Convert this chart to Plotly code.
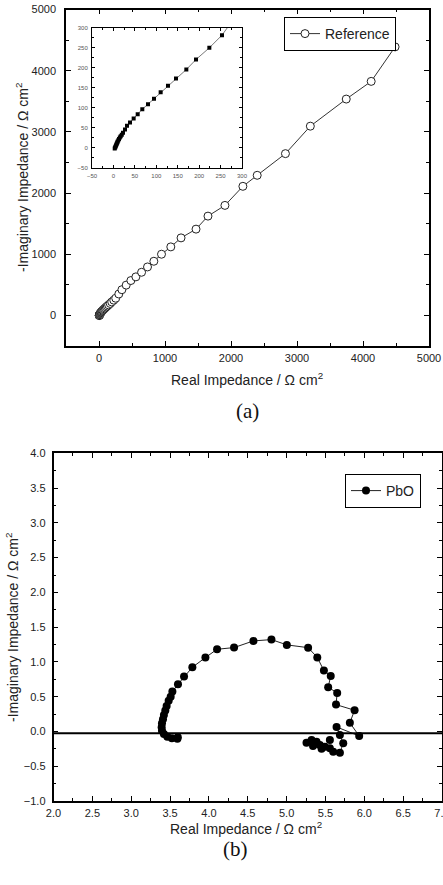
import plotly.graph_objects as go

# ---------------- data ----------------
# (a) Reference electrode: main Nyquist data (same data is shown zoomed in the inset)
ref_real = [3, 4, 5, 6, 7, 8, 9, 10, 11.5, 13, 15, 17, 19.5,
            22.3, 27, 31.7, 38.7, 47.2, 56.6, 67.4, 80.7, 94.7, 110.2, 127.3, 146,
            170.1, 192.7, 223.8, 253.3,
            300, 347, 412, 483, 559, 645, 735, 831, 947, 1088, 1243, 1470, 1651,
            1908, 2180, 2397, 2825, 3202, 3746, 4124, 4486]
ref_imag = [-2.5, 0, 2.5, 5, 7.5, 10, 12.5, 15, 18, 21, 25, 28, 32,
            36.7, 45, 54.2, 62.5, 72.5, 83.3, 95.8, 108.3, 121.7, 138.3, 154.2, 172.5,
            195, 220, 249.2, 280.8,
            350, 420, 495, 570, 630, 705, 792, 885, 1000, 1120, 1267, 1410, 1623,
            1798, 2110, 2290, 2644, 3093, 3536, 3825, 4389]

# (b) PbO electrode
pbo_real = [3.600, 3.594, 3.524, 3.465, 3.421, 3.396, 3.392, 3.396, 3.409, 3.421,
            3.439, 3.456, 3.482, 3.508, 3.530, 3.602, 3.680, 3.787, 3.955, 4.105,
            4.324, 4.573, 4.805, 5.003, 5.277, 5.395, 5.480, 5.568, 5.535, 5.651,
            5.636, 5.875, 5.814, 5.934, 5.643, 5.686, 5.729, 5.686, 5.600, 5.557,
            5.492, 5.428, 5.385, 5.321, 5.256, 5.340, 5.450, 5.557]
pbo_imag = [-0.085, -0.104, -0.098, -0.075, -0.036, 0.012, 0.060, 0.118, 0.175, 0.237,
            0.300, 0.367, 0.443, 0.500, 0.573, 0.679, 0.789, 0.923, 1.062, 1.182,
            1.206, 1.302, 1.321, 1.245, 1.205, 1.065, 0.875, 0.799, 0.636, 0.554,
            0.386, 0.305, 0.125, -0.065, 0.065, -0.050, -0.170, -0.305, -0.290, -0.242,
            -0.219, -0.194, -0.147, -0.122, -0.161, -0.210, -0.250, -0.122]
pbo_baseline = -0.025

# ---------------- layout helpers ----------------
W, H = 443, 885


def dx(a, b):
    return [a / W, b / W]


def dy(top, bottom):
    return [1 - bottom / H, 1 - top / H]


FONT = "Liberation Sans, Arial, sans-serif"

fig = go.Figure()

fig.add_trace(go.Scatter(
    x=ref_real, y=ref_imag, mode="lines+markers", name="Reference",
    xaxis="x", yaxis="y", legend="legend",
    line=dict(color="#333333", width=1),
    marker=dict(symbol="circle", size=8, color="white",
                line=dict(color="#222222", width=1)),
))

fig.add_trace(go.Scatter(
    x=ref_real, y=ref_imag, mode="lines+markers", showlegend=False,
    xaxis="x2", yaxis="y2",
    line=dict(color="#555555", width=0.8),
    marker=dict(symbol="square", size=4, color="black"),
))

fig.add_trace(go.Scatter(
    x=pbo_real, y=pbo_imag, mode="lines+markers", name="PbO",
    xaxis="x3", yaxis="y3", legend="legend2",
    line=dict(color="#222222", width=1),
    marker=dict(symbol="circle", size=8, color="black"),
))


def axis_style(**kw):
    base = dict(
        showline=True, linecolor="black", linewidth=1.5, mirror="ticks",
        ticks="inside", ticklen=5, tickwidth=1, tickcolor="black",
        showgrid=False, zeroline=False, automargin=False,
        ticklabeloverflow="allow",
        tickfont=dict(family=FONT, size=11, color="#222222"),
    )
    base.update(kw)
    return base


fig.update_layout(
    template="none",
    width=W, height=H,
    margin=dict(l=0, r=0, t=0, b=0, pad=0, autoexpand=False),
    paper_bgcolor="white", plot_bgcolor="white",
    font=dict(family=FONT, color="#222222"),
    xaxis=axis_style(domain=dx(66, 429), anchor="y", range=[-500, 5000],
                     tick0=0, dtick=1000, ticklabelstandoff=1,
                     minor=dict(ticks="inside", ticklen=3, dtick=500, tick0=0,
                                tickcolor="black")),
    yaxis=axis_style(domain=dy(9.5, 346), anchor="x", range=[-500, 5000],
                     tick0=0, dtick=1000, ticklabelstandoff=6,
                     minor=dict(ticks="inside", ticklen=3, dtick=500, tick0=0,
                                tickcolor="black")),
    xaxis2=axis_style(domain=dx(92, 242), anchor="y2", range=[-50, 300],
                      tick0=0, dtick=50, linewidth=1, ticklen=3,
                      tickfont=dict(family=FONT, size=6, color="#555555"),
                      ticklabelstandoff=2,
                      minor=dict(ticks="inside", ticklen=2, dtick=25, tick0=0,
                                 tickcolor="black")),
    yaxis2=axis_style(domain=dy(27.5, 167.5), anchor="x2", range=[-50, 300],
                      tick0=0, dtick=50, linewidth=1, ticklen=3,
                      tickfont=dict(family=FONT, size=6, color="#555555"),
                      ticklabelstandoff=2,
                      minor=dict(ticks="inside", ticklen=2, dtick=25, tick0=0,
                                 tickcolor="black")),
    xaxis3=axis_style(domain=dx(53.5, 442), anchor="y3", range=[2, 7],
                      tick0=2, dtick=0.5, tickformat=".1f", ticklabelstandoff=1,
                      minor=dict(ticks="inside", ticklen=3, dtick=0.25, tick0=2,
                                 tickcolor="black")),
    yaxis3=axis_style(domain=dy(453.3, 801), anchor="x3", range=[-1, 4],
                      tick0=-1, dtick=0.5, tickformat=".1f", ticklabelstandoff=4,
                      minor=dict(ticks="inside", ticklen=3, dtick=0.25, tick0=-1,
                                 tickcolor="black")),
    legend=dict(x=284 / W, y=1 - 17 / H, xanchor="left", yanchor="top",
                bordercolor="black", borderwidth=1, bgcolor="white",
                font=dict(family=FONT, size=14, color="#222222"),
                tracegroupgap=0, itemwidth=30),
    legend2=dict(x=345 / W, y=1 - 474 / H, xanchor="left", yanchor="top",
                 bordercolor="black", borderwidth=1, bgcolor="white",
                 font=dict(family=FONT, size=14, color="#222222"),
                 tracegroupgap=0, itemwidth=30),
    showlegend=True,
)

# baseline in (b)
fig.add_shape(type="line", xref="x3 domain", yref="y3", x0=0, x1=1,
              y0=pbo_baseline, y1=pbo_baseline,
              line=dict(color="black", width=2))

title_font = dict(family=FONT, size=14, color="#222222")
ann = [
    dict(text="Real Impedance / Ω cm<sup>2</sup>", x=247 / W, y=1 - 379 / H),
    dict(text="-Imaginary Impedance / Ω cm<sup>2</sup>", x=22 / W, y=1 - 178 / H,
         textangle=-90),
    dict(text="Real Impedance / Ω cm<sup>2</sup>", x=246 / W, y=1 - 828 / H),
    dict(text="-Imaginary Impedance / Ω cm<sup>2</sup>", x=12 / W, y=1 - 628 / H,
         textangle=-90),
]
for a in ann:
    fig.add_annotation(xref="paper", yref="paper", showarrow=False,
                       xanchor="center", yanchor="middle", font=title_font, **a)

cap_font = dict(family="Liberation Serif, Times New Roman, serif", size=21,
                color="#111111")
fig.add_annotation(text="(a)", x=247 / W, y=1 - 411 / H, xref="paper",
                   yref="paper", showarrow=False, font=cap_font)
fig.add_annotation(text="(b)", x=236 / W, y=1 - 863 / H, xref="paper",
                   yref="paper", showarrow=False, font=cap_font)

fig.write_html("out.html")
